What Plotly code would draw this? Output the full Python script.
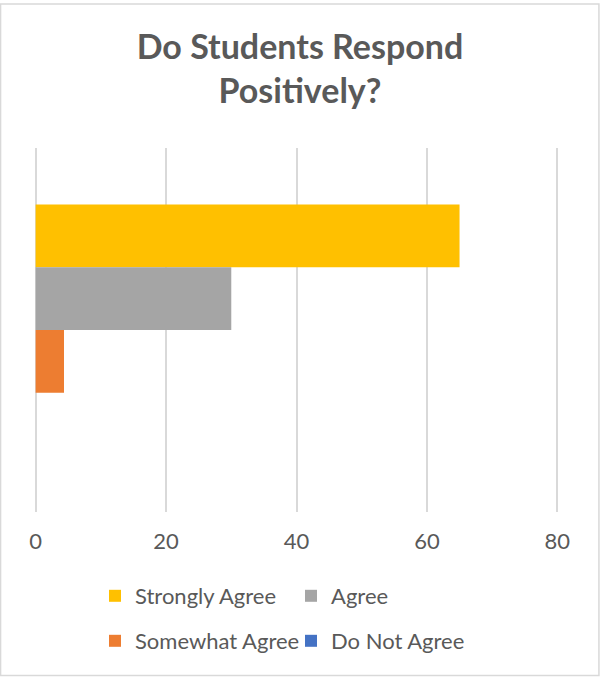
import plotly.graph_objects as go

# Data
categories = [""]
series_names = ["Strongly Agree", "Agree", "Somewhat Agree", "Do Not Agree"]
series_values = [[65], [30], [4.35], [0]]
series_colors = ["#FFC000", "#A5A5A5", "#ED7D31", "#4472C4"]
x_ticks = [0, 20, 40, 60, 80]

FONT = "Lato"
TXT = "#595959"

W, H = 600, 679
# x axis: 0 at px 36, 80 at px 557; pad range slightly so edge gridlines are drawn
PAD = 0.25
PPU = (557 - 36) / 80.0
ML = 36 - PAD * PPU
PW = (80 + 2 * PAD) * PPU
MR = W - ML - PW
MT, MB = 148, 679 - 512
PH = H - MT - MB

legend_ids = ["legend", "legend2", "legend3", "legend4"]
legend_px = [(95, 596), (291, 596), (95, 641), (291, 641)]

fig = go.Figure()
for name, vals, col, lid in zip(series_names, series_values, series_colors, legend_ids):
    fig.add_trace(go.Bar(
        y=categories, x=vals, name=name, orientation="h",
        marker=dict(color=col, line=dict(width=0)),
        legend=lid, hoverinfo="x+name",
    ))

layout_legends = {}
for lid, (px, py) in zip(legend_ids, legend_px):
    layout_legends[lid] = dict(
        x=px / W, y=1 - py / H, xref="container", yref="container",
        xanchor="left", yanchor="middle", orientation="h",
        font=dict(family=FONT, size=22, color=TXT),
        bgcolor="rgba(0,0,0,0)", borderwidth=0,
    )

def px_to_paper_x(px):
    return (px - ML) / PW

def px_to_paper_y(py):
    return (H - MB - py) / PH

fig.update_layout(
    width=W, height=H,
    margin=dict(l=ML, r=MR, t=MT, b=MB, pad=0),
    paper_bgcolor="white", plot_bgcolor="white",
    barmode="group", bargap=0.31, bargroupgap=0,
    title=dict(
        text="<b>Do Students Respond<br>Positively?</b>",
        x=0.5, xref="container", xanchor="center",
        y=1 - 59 / H, yref="container", yanchor="top",
        font=dict(family=FONT, size=34, color=TXT),
    ),
    xaxis=dict(
        range=[-PAD, 80 + PAD], tickvals=x_ticks, ticktext=[str(t) for t in x_ticks],
        showgrid=True, gridcolor="#D9D9D9", gridwidth=2,
        zeroline=False, showline=False, ticks="",
        ticklabelstandoff=14,
        tickfont=dict(family=FONT, size=22, color=TXT),
        fixedrange=True,
    ),
    yaxis=dict(
        autorange="reversed", showticklabels=False, showgrid=False,
        zeroline=False, showline=False, fixedrange=True,
    ),
    showlegend=True,
    shapes=[dict(
        type="rect", xref="paper", yref="paper",
        x0=px_to_paper_x(1), x1=px_to_paper_x(598.5),
        y0=px_to_paper_y(675.5), y1=px_to_paper_y(4),
        line=dict(color="#D9D9D9", width=1.5), fillcolor="rgba(0,0,0,0)",
        layer="below",
    )],
    **layout_legends,
)

fig.write_html(
    "out.html",
    config={"displayModeBar": False},
    post_script="document.body.style.margin='0';",
)
